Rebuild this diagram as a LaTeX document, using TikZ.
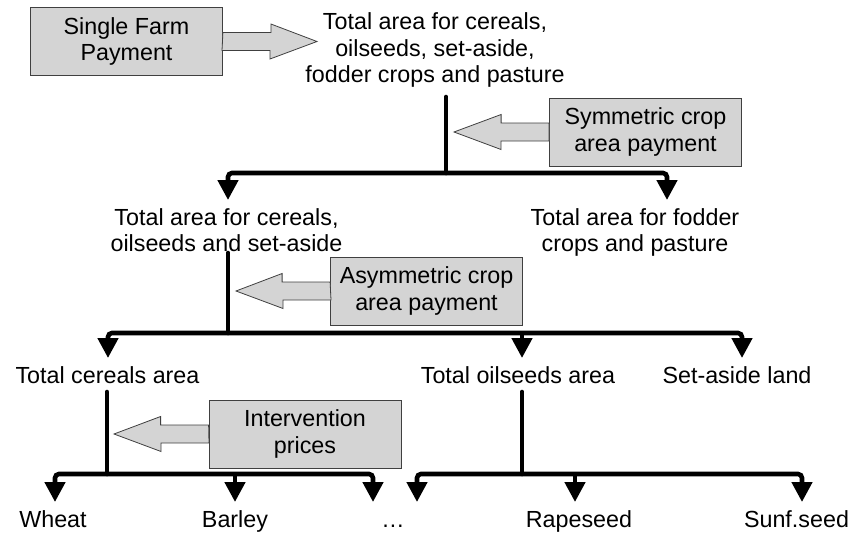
\documentclass[tikz,border=0pt]{standalone}
\usepackage{fontspec}
\setmainfont{Liberation Sans}
\usetikzlibrary{arrows.meta}
\definecolor{boxgray}{RGB}{212,212,212}

\begin{document}
\begin{tikzpicture}[x=1pt, y=-1pt,
  lbl/.style={font=\fontsize{23.3}{26.5}\selectfont, inner sep=0pt, align=center},
  paybox/.style={lbl, draw=black!75, line width=0.8pt, fill=boxgray, minimum width=192pt, minimum height=68pt},
  fat/.style={draw=black!75, line width=0.8pt, fill=boxgray},
  stem/.style={line width=4.6pt, line cap=round},
  branch/.style={line width=4.6pt, rounded corners=4pt, -{Triangle[length=20pt,width=20pt]}}]
  \useasboundingbox (0,0) rectangle (854,535);

  \node[lbl, anchor=north] (all) at (435,12.5) {Total area for cereals,\\oilseeds, set-aside,\\fodder crops and pasture};
  \node[paybox] (sfp) at (126.5,41.5) {Single Farm\\Payment};
  \node[paybox] (sym) at (645.5,132) {Symmetric crop\\area payment};
  \node[lbl, anchor=north] (cos) at (226.5,208) {Total area for cereals,\\oilseeds and set-aside};
  \node[lbl, anchor=north] (fod) at (635,208) {Total area for fodder\\crops and pasture};
  \node[paybox] (asym) at (426.5,291) {Asymmetric crop\\area payment};
  \node[lbl, anchor=base] (cer) at (107.5,383) {Total cereals area};
  \node[lbl, anchor=base] (oil) at (518,383) {Total oilseeds area};
  \node[lbl, anchor=base] (sas) at (737,383) {Set-aside land};
  \node[paybox] (int) at (305,434) {Intervention\\prices};
  \node[lbl, anchor=base] (wht) at (53,527) {Wheat};
  \node[lbl, anchor=base] (bar) at (235,527) {Barley};
  \node[lbl, anchor=base] (dots) at (393,527) {…};
  \node[lbl, anchor=base] (rap) at (579,527) {Rapeseed};
  \node[lbl, anchor=base] (sun) at (796.5,527) {Sunf.seed};

  \coordinate (s1) at (446,97);  \coordinate (j1) at (446,173);
  \coordinate (t1a) at (228,200); \coordinate (t1b) at (667,200);
  \coordinate (s2) at (228,253); \coordinate (j2) at (228,333);
  \coordinate (t2a) at (108,358); \coordinate (t2b) at (522,358); \coordinate (t2c) at (742,358);
  \coordinate (s3) at (107,392); \coordinate (j3) at (107,474);
  \coordinate (t3a) at (55,502); \coordinate (t3b) at (235,502); \coordinate (t3c) at (373,502);
  \coordinate (s4) at (522,392); \coordinate (j4) at (522,474);
  \coordinate (t4a) at (417,502); \coordinate (t4b) at (575,502); \coordinate (t4c) at (802,502);

  \draw[stem] (s1) -- (j1);
  \draw[branch] (j1) -| (t1a);
  \draw[branch] (j1) -| (t1b);
  \draw[stem] (s2) -- (j2);
  \draw[branch] (j2) -| (t2a);
  \draw[branch] (j2) -| (t2c);
  \draw[branch] (t2b |- j2) -- (t2b);
  \draw[stem] (s3) -- (j3);
  \draw[branch] (j3) -| (t3a);
  \draw[branch] (j3) -| (t3c);
  \draw[branch] (t3b |- j3) -- (t3b);
  \draw[stem] (s4) -- (j4);
  \draw[branch] (j4) -| (t4a);
  \draw[branch] (j4) -| (t4c);
  \draw[branch] (t4b |- j4) -- (t4b);

  \coordinate (sfptip) at (317,41.5);
  \coordinate (symtip) at (454,132);
  \coordinate (asymtip) at (236,291);
  \coordinate (inttip) at (114,434);
  \draw[fat] (sfp.east) ++(0,-9) -- ++(48,0) -- ++(0,-8.5) -- (sfptip) -- ++(-47,17.5) -- ++(0,-8.5) -- ++(-48,0) -- cycle;
  \draw[fat] (sym.west) ++(0,-9) -- ++(-48,0) -- ++(0,-8.5) -- (symtip) -- ++(47,17.5) -- ++(0,-8.5) -- ++(48,0) -- cycle;
  \draw[fat] (asym.west) ++(0,-9) -- ++(-48,0) -- ++(0,-8.5) -- (asymtip) -- ++(47,17.5) -- ++(0,-8.5) -- ++(48,0) -- cycle;
  \draw[fat] (int.west) ++(0,-9) -- ++(-48,0) -- ++(0,-8.5) -- (inttip) -- ++(47,17.5) -- ++(0,-8.5) -- ++(48,0) -- cycle;
\end{tikzpicture}
\end{document}
